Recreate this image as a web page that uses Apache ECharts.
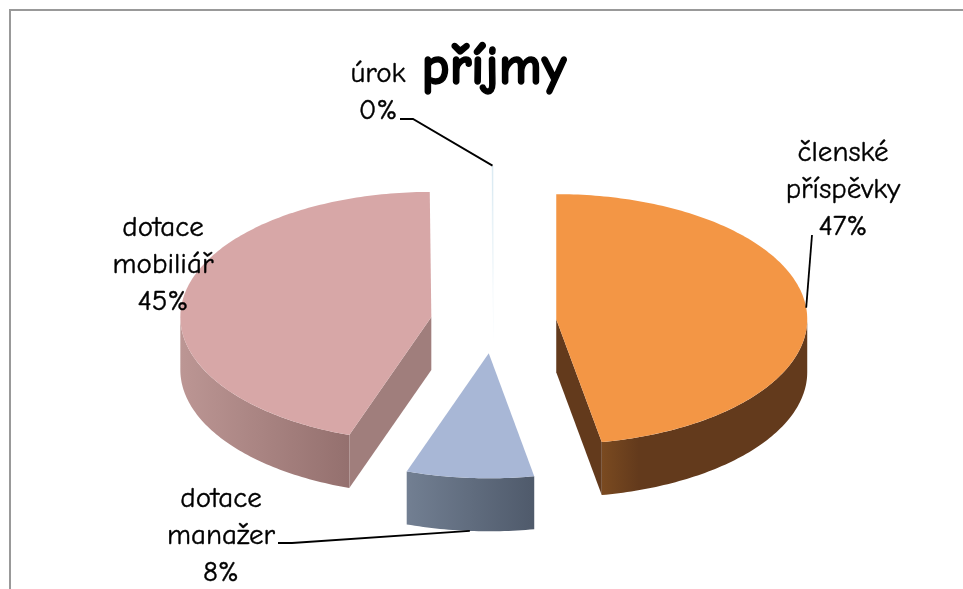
<!DOCTYPE html>
<html>
<head>
<meta charset="utf-8">
<style>
  html, body { margin: 0; padding: 0; background: #fff; }
  #chart { width: 963px; height: 589px; }
</style>
<script src="https://cdn.jsdelivr.net/npm/echarts@6/dist/echarts.min.js"></script>
</head>
<body>
<div id="chart"></div>
<script>
const categories = ["členské\npříspěvky", "dotace\nmanažer", "dotace\nmobiliář", "úrok"];
const shares = [47.1, 8.2, 44.6, 0.1];
const titleText = "příjmy";

// top colour, cut face colour, rim gradient left / right
const topColors = ["#f39645", "#a8b7d6", "#d7a7a7", "#dcebf3"];
const faceColors = ["#633a1c", "#56617a", "#a07e7c", "#eef5f9"];
const rimLeft = ["#7a4a20", "#727f92", "#bc9694", "#eef5f9"];
const rimRight = ["#633a1c", "#4f5a6b", "#94706e", "#eef5f9"];
const rimStop = [0.18, 1, 1, 1];

// label centres and leader line starts
const labelPos = [[843, 190], [221, 536], [163, 265], [378, 92]];
const leaderStart = [[[812, 235]], [[278, 543], [292, 543]], null, [[400, 119], [413, 119]]];

const CX = 493.5, CY = 322, RX = 251, RY = 125, DEPTH = 53, EXPLODE = 63;
const FONT = '"Comic Sans MS", "Comic Neue", Lato, "Noto Sans", sans-serif';

const total = shares.reduce((a, b) => a + b, 0);
const rad = d => d * Math.PI / 180;

function renderSlice(params, api) {
  const i = params.dataIndex;
  let before = 0;
  for (let k = 0; k < i; k++) before += shares[k];
  const a0 = before / total * 360;
  const a1 = (before + api.value(0)) / total * 360;
  const mid = (a0 + a1) / 2;
  // exploded centre of this slice, angles run clockwise from the top
  const cx = CX + EXPLODE * Math.sin(rad(mid));
  const cy = CY - EXPLODE * RY / RX * Math.cos(rad(mid));
  const at = (deg, dy) => [cx + RX * Math.sin(rad(deg)), cy - RY * Math.cos(rad(deg)) + (dy || 0)];
  const children = [];

  const arc = (from, to, dy) => {
    const pts = [];
    const n = Math.max(1, Math.ceil(Math.abs(to - from)));
    for (let s = 0; s <= n; s++) pts.push(at(from + (to - from) * s / n, dy));
    return pts;
  };

  // rim, only the front half of the ellipse shows
  const r0 = Math.max(a0, 90), r1 = Math.min(a1, 270);
  if (r1 > r0) {
    children.push({
      type: "polygon",
      shape: { points: arc(r0, r1, 0).concat(arc(r1, r0, DEPTH)) },
      style: {
        fill: new echarts.graphic.LinearGradient(0, 0, 1, 0, [
          { offset: 0, color: rimLeft[i] },
          { offset: rimStop[i], color: rimRight[i] },
          { offset: 1, color: rimRight[i] }
        ])
      }
    });
  }
  // cut faces
  const face = deg => ({
    type: "polygon",
    shape: { points: [[cx, cy], at(deg), at(deg, DEPTH), [cx, cy + DEPTH]] },
    style: { fill: faceColors[i] }
  });
  if (Math.sin(rad(a0)) < 0) children.push(face(a0));
  if (Math.sin(rad(a1)) > 0) children.push(face(a1));
  // top
  children.push({
    type: "polygon",
    shape: { points: [[cx, cy]].concat(arc(a0, a1, 0)) },
    style: { fill: topColors[i] }
  });
  // leader line to the rim
  if (leaderStart[i]) {
    const end = at(mid, Math.cos(rad(mid)) < -0.5 ? DEPTH : 0);
    children.push({
      type: "polyline",
      z2: 5,
      shape: { points: leaderStart[i].concat([end]) },
      style: { stroke: "#000", lineWidth: 1.8, fill: null }
    });
  }
  // label
  children.push({
    type: "text",
    z2: 10,
    style: {
      text: categories[i] + "\n" + Math.round(api.value(0) / total * 100) + "%",
      x: labelPos[i][0],
      y: labelPos[i][1],
      align: "center",
      verticalAlign: "middle",
      font: "29px " + FONT,
      lineHeight: 37,
      fill: "#000",
      stroke: "#000",
      lineWidth: 0.4
    }
  });
  return { type: "group", children: children };
}

const chart = echarts.init(document.getElementById("chart"), null, { renderer: "canvas" });
chart.setOption({
  backgroundColor: "#fff",
  animation: false,
  title: {
    text: titleText,
    left: 489,
    top: 37,
    textAlign: "center",
    textStyle: {
      fontFamily: FONT,
      fontWeight: 900,
      fontSize: 54,
      color: "#000",
      textBorderColor: "#000",
      textBorderWidth: 1.4
    }
  },
  graphic: [
    {
      type: "polyline",
      silent: true,
      shape: { points: [[963, 10], [10, 10], [10, 589]] },
      style: { stroke: "#999", lineWidth: 2, fill: null }
    }
  ],
  series: [
    {
      type: "custom",
      coordinateSystem: "none",
      renderItem: renderSlice,
      data: shares.map(v => [v])
    }
  ]
});
</script>
</body>
</html>
